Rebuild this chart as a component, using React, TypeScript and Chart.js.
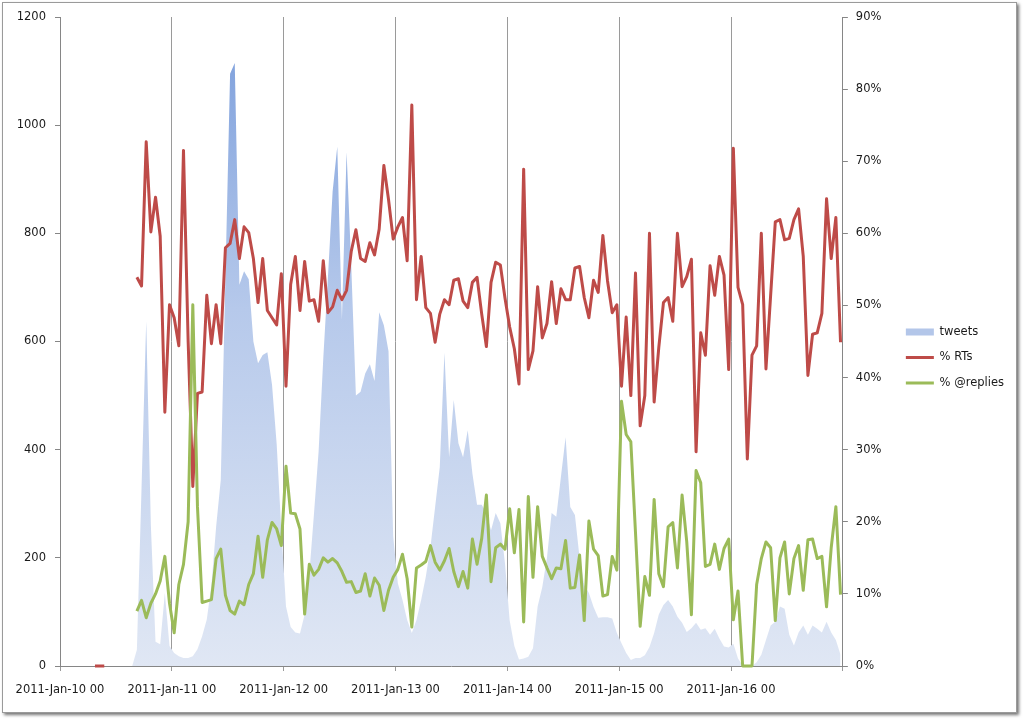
import React, { useEffect, useRef } from 'react';
import { Chart, registerables } from 'chart.js';

Chart.register(...registerables);

// hourly categories since 2011-Jan-10 00 (each point sits in the middle of its hour)
const hours: number[] = Array.from({ length: 168 }, (_, i) => i + 0.5);
const dayLabels = [
  '2011-Jan-10 00', '2011-Jan-11 00', '2011-Jan-12 00', '2011-Jan-13 00',
  '2011-Jan-14 00', '2011-Jan-15 00', '2011-Jan-16 00',
];

const tweets: number[] = [
  0, 0, 0, 0, 0, 0, 0, 0, 0, 0, 0, 0, 0, 0, 0, 0,
  30, 330, 637, 260, 45, 40, 135, 37,
  24, 18, 15, 15, 18, 31, 55, 86,
  150, 257, 344, 720, 1095, 1115, 705, 730,
  715, 600, 560, 575, 580, 520, 410, 250,
  110, 72, 62, 60, 95, 170, 281, 397,
  569, 719, 877, 960, 640, 950, 740, 500,
  507, 541, 558, 527, 654, 630, 582, 240,
  153, 122, 85, 61, 85, 122, 165, 220,
  294, 368, 579, 386, 492, 412, 386, 436,
  356, 298, 298, 283, 251, 283, 264, 189,
  84, 37, 12, 14, 17, 33, 110, 146,
  200, 283, 276, 350, 423, 294, 279, 200,
  150, 135, 109, 89, 90, 90, 88, 61,
  42, 24, 11, 15, 15, 20, 35, 61,
  95, 113, 122, 110, 91, 80, 63, 70,
  80, 67, 70, 58, 69, 51, 36, 34,
  41, 14, 1, 0, 0, 7, 21, 48,
  75, 82, 110, 106, 58, 38, 62, 75,
  58, 75, 69, 62, 82, 62, 48, 21,
];

const pctRTs: (number | null)[] = [
  null, null, null, null, null, null, null, 0, 0, 0, null, null, null, null, null, null,
  53.9, 52.7, 72.7, 60.2, 65.0, 59.6, 35.2, 50.1,
  48.3, 44.4, 71.5, 45.0, 24.9, 37.8, 38.0, 51.4,
  44.7, 50.1, 44.7, 58.0, 58.6, 61.9, 56.5, 60.9,
  60.1, 56.5, 50.4, 56.5, 49.3, 48.3, 47.3, 54.4,
  38.8, 52.9, 56.8, 49.3, 56.1, 50.6, 50.8, 47.8,
  56.2, 49.0, 49.8, 52.1, 50.8, 52.1, 57.5, 60.5,
  56.5, 56.1, 58.7, 57.0, 60.6, 69.4, 64.7, 59.2,
  60.9, 62.2, 56.2, 77.8, 50.8, 56.8, 49.7, 48.9,
  44.9, 48.8, 50.8, 50.1, 53.5, 53.7, 50.6, 49.7,
  53.2, 53.9, 48.8, 44.3, 53.2, 56.0, 55.6, 51.0,
  47.0, 44.0, 39.1, 68.9, 41.1, 43.7, 52.6, 45.5,
  47.5, 53.3, 47.5, 52.3, 50.8, 50.8, 55.2, 55.4,
  51.1, 48.3, 53.5, 51.8, 59.7, 53.4, 49.0, 50.1,
  38.8, 48.4, 37.5, 54.5, 33.3, 37.5, 60.0, 36.6,
  44.2, 50.4, 51.1, 47.8, 60.0, 52.6, 54.0, 56.4,
  29.7, 46.2, 43.1, 55.5, 51.4, 56.8, 54.2, 41.1,
  71.8, 52.5, 50.1, 28.7, 43.1, 44.4, 60.0, 41.2,
  51.4, 61.6, 61.9, 59.1, 59.3, 61.9, 63.4, 56.8,
  40.3, 46.0, 46.2, 48.9, 64.8, 56.5, 62.2, 44.9,
];

const pctReplies: (number | null)[] = [
  null, null, null, null, null, null, null, null, null, null, null, null, null, null, null, null,
  7.6, 9.1, 6.7, 8.7, 10.0, 11.8, 15.2, 8.7,
  4.6, 11.3, 14.1, 20.0, 50.1, 22.1, 8.8, 9.0,
  9.2, 14.9, 16.2, 9.8, 7.7, 7.2, 9.0, 8.5,
  11.3, 12.8, 18.0, 12.3, 17.5, 19.9, 19.0, 16.7,
  27.7, 21.2, 21.1, 19.0, 7.2, 14.1, 12.6, 13.4,
  15.0, 14.4, 14.9, 14.3, 13.1, 11.6, 11.7, 10.2,
  10.4, 12.8, 9.7, 12.2, 11.2, 7.7, 10.5, 12.3,
  13.4, 15.5, 12.1, 5.4, 13.6, 14.0, 14.5, 16.7,
  14.4, 13.3, 14.6, 16.3, 13.1, 11.0, 13.1, 10.8,
  17.6, 14.1, 17.7, 23.7, 11.7, 16.4, 16.9, 16.2,
  21.8, 15.7, 21.7, 6.1, 23.5, 12.3, 22.1, 15.2,
  13.6, 12.1, 13.6, 13.5, 17.4, 10.8, 10.9, 15.4,
  6.3, 20.1, 16.2, 15.3, 9.7, 9.9, 15.2, 13.3,
  36.7, 32.1, 31.1, 18.5, 5.5, 12.4, 9.8, 23.1,
  12.8, 11.0, 19.3, 19.9, 13.6, 23.7, 17.2, 7.1,
  27.1, 25.4, 13.8, 14.1, 16.9, 13.4, 16.3, 17.6,
  6.4, 10.4, 0, 0, 0, 11.3, 14.9, 17.2,
  16.4, 6.3, 15.0, 17.2, 10.0, 14.9, 16.7, 10.5,
  17.5, 17.6, 14.9, 15.2, 8.2, 16.4, 22.1, 9.9,
];

const FONT = 'DejaVu Sans';
const FSIZE = 11.5;
const TEXT = '#1a1a1a';
const AXIS = '#868686';

export default function App() {
  const ref = useRef<HTMLCanvasElement | null>(null);

  useEffect(() => {
    if (!ref.current) return;
    Chart.defaults.font.family = FONT;
    Chart.defaults.font.size = FSIZE;
    const chart = new Chart(ref.current, {
      type: 'line',
      data: {
        labels: hours,
        datasets: [
          {
            label: 'tweets',
            data: tweets,
            yAxisID: 'y',
            fill: 'origin',
            borderWidth: 0,
            pointRadius: 0,
            order: 3,
            backgroundColor: (ctx: any) => {
              const area = ctx.chart.chartArea;
              if (!area) return '#c0d0ec';
              const g = ctx.chart.ctx.createLinearGradient(0, area.top, 0, area.bottom);
              g.addColorStop(0, '#7a9ddb');
              g.addColorStop(0.45, '#b6c9eb');
              g.addColorStop(1, '#e0e7f4');
              return g;
            },
          },
          {
            label: '% RTs',
            data: pctRTs,
            yAxisID: 'y1',
            borderColor: '#be4b48',
            backgroundColor: '#be4b48',
            borderWidth: 3,
            pointRadius: 0,
            fill: false,
            order: 2,
            clip: 4,
            borderJoinStyle: 'round',
            spanGaps: false,
          },
          {
            label: '% @replies',
            data: pctReplies,
            yAxisID: 'y1',
            borderColor: '#9bbb59',
            backgroundColor: '#9bbb59',
            borderWidth: 3,
            pointRadius: 0,
            fill: false,
            order: 1,
            clip: 4,
            borderJoinStyle: 'round',
            spanGaps: false,
          },
        ],
      },
      options: {
        responsive: false,
        animation: false,
        layout: { padding: { top: 17, left: 0, right: 14, bottom: 22 } },
        plugins: {
          tooltip: { enabled: false },
          legend: {
            position: 'right',
            labels: {
              usePointStyle: true,
              pointStyleWidth: 28,
              boxHeight: 7,
              padding: 14,
              color: TEXT,
              font: { family: FONT, size: FSIZE },
              sort: (a: any, b: any) => a.datasetIndex - b.datasetIndex,
              generateLabels: (c: any) => {
                const items = Chart.defaults.plugins.legend.labels.generateLabels(c);
                return items.map((it: any) => {
                  if (it.datasetIndex === 0) {
                    return { ...it, pointStyle: 'rect', fillStyle: '#b3c6e9', strokeStyle: '#b3c6e9', lineWidth: 0 };
                  }
                  const col = it.datasetIndex === 1 ? '#be4b48' : '#9bbb59';
                  return { ...it, pointStyle: 'line', fillStyle: col, strokeStyle: col, lineWidth: 3 };
                });
              },
            },
          },
        },
        scales: {
          x: {
            type: 'linear',
            min: 0,
            max: 168,
            afterFit: (s: any) => { s.height = 32; },
            ticks: {
              stepSize: 24,
              autoSkip: false,
              maxRotation: 0,
              color: TEXT,
              padding: 12,
              font: { family: FONT, size: FSIZE },
              callback: (v: any) => dayLabels[Math.round(Number(v) / 24)] ?? '',
            },
            grid: { color: '#9a9a9a', tickLength: 5, drawOnChartArea: true },
            border: { color: AXIS },
          },
          y: {
            position: 'left',
            min: 0,
            max: 1200,
            afterFit: (s: any) => { s.width = 60; },
            ticks: {
              stepSize: 200,
              color: TEXT,
              padding: 9,
              font: { family: FONT, size: FSIZE },
              callback: (v: any) => String(v),
            },
            grid: { drawOnChartArea: false, tickLength: 5, color: AXIS },
            border: { color: AXIS },
          },
          y1: {
            position: 'right',
            min: 0,
            max: 90,
            afterFit: (s: any) => { s.width = 49; },
            ticks: {
              stepSize: 10,
              color: TEXT,
              padding: 8,
              font: { family: FONT, size: FSIZE },
              callback: (v: any) => `${v}%`,
            },
            grid: { drawOnChartArea: false, tickLength: 5, color: AXIS },
            border: { color: AXIS },
          },
        },
      },
    } as any);
    return () => chart.destroy();
  }, []);

  return (
    <div style={{ position: 'fixed', left: 0, top: 0, width: 1028, height: 720, background: '#fff' }}>
      <div
        style={{
          position: 'absolute', left: 2, top: 2, width: 1013, height: 709,
          border: '1px solid #9a9a9a', boxShadow: '2px 2px 3px rgba(0,0,0,0.55)', background: '#fff',
        }}
      />
      <canvas ref={ref} width={1028} height={720} style={{ position: 'absolute', left: 0, top: 0 }} />
    </div>
  );
}
